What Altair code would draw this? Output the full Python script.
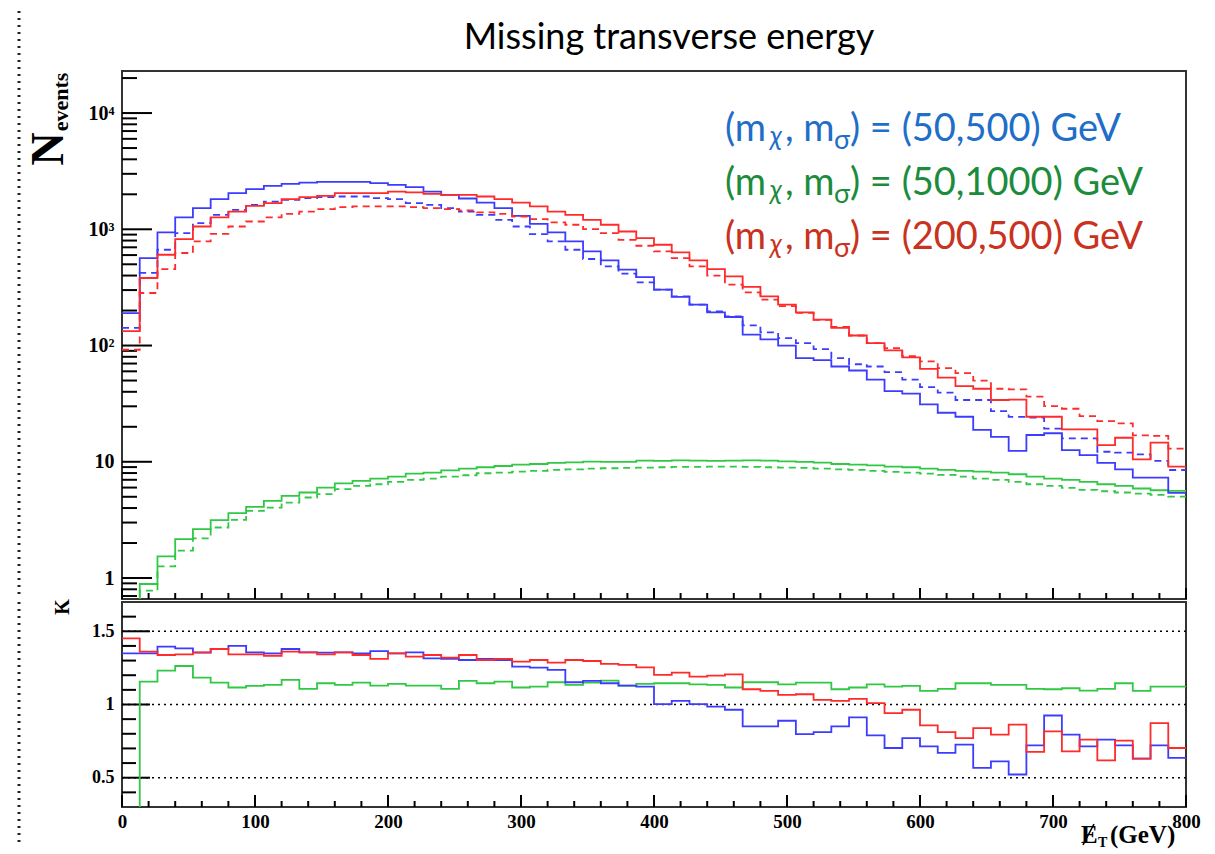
import altair as alt
import pandas as pd

# ---------------- data ----------------
NBINS = 60
XMAX = 800.0
BIN_W = XMAX / NBINS
edges = [i * BIN_W for i in range(NBINS + 1)]

blue_solid = [190, 566, 940, 1264, 1520, 1815, 2045, 2213, 2362, 2460,
              2523, 2558, 2558, 2558, 2494, 2411, 2301, 2112, 1978, 1840,
              1698, 1520, 1306, 1115, 940, 786, 645, 540, 449, 388,
              303, 262, 225, 193, 176, 124, 113, 100, 78, 75,
              66, 61, 51, 40.5, 38.5, 31.2, 26.4, 24.4, 18.8, 16.4,
              12.4, 17.0, 17.6, 12.6, 11.4, 9.8, 8.6, 7.3, 7.3, 5.4]
blue_dashed = [142, 421, 667, 927, 1130, 1330, 1468, 1622, 1733, 1791,
               1853, 1889, 1915, 1915, 1853, 1815, 1678, 1622, 1520, 1421,
               1330, 1207, 1057, 910, 786, 667, 555, 480, 415, 349,
               303, 265, 225, 197, 178, 149, 130, 116, 105, 93,
               78, 69, 66, 59, 51, 43.9, 39.3, 34, 34, 27.3,
               24.3, 24, 19.3, 15.9, 15.9, 12.2, 12, 11.6, 10.2, 8.5]
red_solid = [133, 381, 604, 824, 1057, 1264, 1421, 1591, 1678, 1815,
             1889, 1941, 2045, 2045, 2045, 2112, 2080, 2020, 1978, 1978,
             1915, 1815, 1698, 1573, 1421, 1330, 1207, 1094, 957, 840,
             736, 632, 540, 455, 394, 319, 265, 225, 193, 167,
             142, 122, 105, 91, 79, 63, 53, 44.8, 42.5, 34,
             34.3, 24.4, 24.4, 19, 19, 13.9, 16.1, 10.5, 14.6, 9.1]
red_dashed = [92, 283, 455, 625, 786, 915, 1057, 1167, 1264, 1358,
              1421, 1490, 1552, 1573, 1573, 1573, 1552, 1520, 1490, 1452,
              1396, 1358, 1288, 1225, 1146, 1094, 1003, 927, 812, 722,
              645, 566, 480, 399, 334, 287, 248, 218, 191, 166,
              145, 122, 105, 95, 81, 73, 64, 58, 50, 42.5,
              42, 36.3, 30.1, 28.6, 24.7, 22.4, 21.4, 16.9, 16.7, 13]
green_solid = [0.3, 0.888, 1.535, 2.16, 2.63, 3.15, 3.61, 4.09, 4.61, 5.09,
               5.44, 6.0, 6.53, 6.84, 7.17, 7.46, 7.91, 8.07, 8.45, 8.74,
               8.97, 9.2, 9.46, 9.57, 9.77, 9.9, 10.03, 9.97, 10.0, 10.23,
               10.17, 10.3, 10.23, 10.17, 10.23, 10.3, 10.23, 10.1, 9.97, 9.83,
               9.57, 9.46, 9.33, 9.09, 8.97, 8.74, 8.51, 8.34, 8.23, 8.07,
               7.81, 7.46, 7.17, 6.98, 6.71, 6.41, 6.2, 5.89, 5.69, 5.62]
green_dashed = [0.3, 0.778, 1.26, 1.72, 2.19, 2.72, 3.17, 3.78, 4.04, 4.46,
                4.93, 5.26, 5.81, 6.2, 6.41, 6.71, 6.98, 7.17, 7.46, 7.66,
                7.97, 8.07, 8.23, 8.34, 8.51, 8.62, 8.74, 8.80, 8.85, 8.91,
                8.97, 9.03, 9.03, 9.09, 9.09, 9.03, 8.97, 8.91, 8.85, 8.74,
                8.62, 8.51, 8.34, 8.18, 8.07, 7.91, 7.71, 7.46, 7.17, 6.98,
                6.71, 6.41, 6.2, 5.96, 5.73, 5.58, 5.44, 5.33, 5.19, 5.02]

k_blue = [1.349, 1.349, 1.395, 1.383, 1.354, 1.379, 1.401, 1.356, 1.349, 1.379,
          1.356, 1.354, 1.356, 1.349, 1.365, 1.349, 1.356, 1.315, 1.311, 1.304,
          1.311, 1.304, 1.259, 1.252, 1.236, 1.152, 1.161, 1.145, 1.129, 1.122,
          1.002, 1.025, 1.002, 0.986, 0.964, 0.850, 0.850, 0.889, 0.798, 0.812,
          0.850, 0.912, 0.789, 0.703, 0.771, 0.714, 0.669, 0.726, 0.567, 0.612,
          0.522, 0.721, 0.925, 0.794, 0.714, 0.760, 0.721, 0.630, 0.721, 0.635]
k_red = [1.451, 1.361, 1.338, 1.342, 1.356, 1.379, 1.342, 1.342, 1.333, 1.361,
         1.356, 1.342, 1.356, 1.338, 1.311, 1.349, 1.327, 1.338, 1.320, 1.338,
         1.304, 1.311, 1.293, 1.304, 1.286, 1.304, 1.297, 1.277, 1.270, 1.254,
         1.202, 1.218, 1.190, 1.197, 1.206, 1.104, 1.093, 1.066, 1.070, 1.032,
         1.025, 1.039, 1.009, 0.941, 0.964, 0.857, 0.812, 0.771, 0.839, 0.794,
         0.862, 0.676, 0.816, 0.680, 0.760, 0.619, 0.753, 0.630, 0.873, 0.703]
k_green = [0.0, 1.156, 1.231, 1.263, 1.184, 1.150, 1.116, 1.127, 1.134, 1.168,
           1.107, 1.145, 1.134, 1.150, 1.129, 1.141, 1.129, 1.129, 1.107, 1.161,
           1.145, 1.156, 1.116, 1.122, 1.152, 1.134, 1.150, 1.163, 1.129, 1.141,
           1.145, 1.145, 1.138, 1.134, 1.116, 1.152, 1.152, 1.138, 1.150, 1.150,
           1.104, 1.116, 1.138, 1.122, 1.127, 1.093, 1.107, 1.145, 1.145, 1.134,
           1.134, 1.107, 1.104, 1.111, 1.095, 1.107, 1.145, 1.093, 1.122, 1.122]

x_major = [0, 100, 200, 300, 400, 500, 600, 700, 800]
x_minor = [v for v in range(0, 801, 20) if v % 100 != 0]
top_major = [1, 10, 100, 1000, 10000]
top_minor = [0.7, 0.8, 0.9] + [k * d for d in [1, 10, 100, 1000] for k in range(2, 10)] + [20000]
k_major = [0.5, 1.0, 1.5]
k_minor = [0.4, 0.6, 0.7, 0.8, 0.9, 1.1, 1.2, 1.3, 1.4, 1.6]

legend_lines = [("(50,500) GeV", "#1f6ec8"), ("(50,1000) GeV", "#1c8c3c"), ("(200,500) GeV", "#c8321e")]

# ---------------- styling ----------------
W, TOP_H, BOT_H = 1064, 528, 205
BLUE, RED, GREEN = "#3c3cff", "#ff2a2a", "#30c844"
SERIF = "Liberation Serif"
SANS = "Lato"

xsc = alt.Scale(domain=[0, XMAX], nice=False, zero=False)
ysc_top = alt.Scale(type="log", domain=[0.66, 23000], nice=False)
ysc_bot = alt.Scale(domain=[0.3, 1.7], nice=False, zero=False)

top_yaxis = alt.Axis(values=top_major, ticks=False, domain=False, grid=False, title=None,
                     labelFont=SERIF, labelFontWeight="bold", labelFontSize=20, labelPadding=8,
                     labelColor="black",
                     labelExpr="datum.value == 1 ? '1' : datum.value == 10 ? '10' : "
                               "datum.value == 100 ? '10\u00b2' : datum.value == 1000 ? '10\u00b3' : '10\u2074'")
bot_yaxis = alt.Axis(values=k_major, ticks=False, domain=False, grid=False, title=None,
                     labelFont=SERIF, labelFontWeight="bold", labelFontSize=18, labelPadding=8,
                     labelColor="black", labelExpr="datum.value == 1 ? '1' : format(datum.value, '.1f')")
bot_xaxis = alt.Axis(values=x_major, ticks=False, domain=False, grid=False, title=None,
                     labelFont=SERIF, labelFontWeight="bold", labelFontSize=19, labelPadding=5,
                     labelColor="black", labelFlush=False)


def hist_df(vals):
    return pd.DataFrame({"x": edges, "v": list(vals) + [vals[-1]]})


def hist(vals, color, ysc, yaxis, xaxis, dashed=False):
    kw = dict(interpolate="step-after", color=color, strokeWidth=1.8, clip=True)
    if dashed:
        kw["strokeDash"] = [7, 5]
    return alt.Chart(hist_df(vals)).mark_line(**kw).encode(
        x=alt.X("x:Q", scale=xsc, axis=xaxis), y=alt.Y("v:Q", scale=ysc, axis=yaxis))


def txt(s, x, y, size, color="black", font=SANS, weight="normal", angle=0,
        align="left", baseline="alphabetic", style="normal"):
    return alt.Chart(pd.DataFrame({"t": [s]})).mark_text(
        font=font, fontSize=size, fontWeight=weight, color=color, angle=angle,
        align=align, baseline=baseline, fontStyle=style
    ).encode(text="t:N", x=alt.value(x), y=alt.value(y))


def yticks(vals, ysc, yaxis, length):
    return alt.Chart(pd.DataFrame({"t": vals})).mark_rule(color="black", strokeWidth=2).encode(
        y=alt.Y("t:Q", scale=ysc, axis=yaxis), x=alt.value(0), x2=alt.value(length))


def xticks(vals, xaxis, h, length):
    return alt.Chart(pd.DataFrame({"t": vals})).mark_rule(color="black", strokeWidth=2).encode(
        x=alt.X("t:Q", scale=xsc, axis=xaxis), y=alt.value(h), y2=alt.value(h - length))


one = pd.DataFrame({"a": [0]})

# ---------------- top panel ----------------
legend_layers = []
for i, (vals, col) in enumerate(legend_lines):
    x0 = 603
    yb = 70 + i * 54
    legend_layers += [
        txt("(m", x0, yb, 38, col),
        txt("\u03c7", x0 + 45, yb + 4, 27, col, style="italic"),
        txt(", m", x0 + 60, yb, 38, col),
        txt("\u03c3", x0 + 109, yb + 8, 27, col),
        txt(") = " + vals, x0 + 125, yb, 38, col),
    ]

top = alt.layer(
    alt.Chart(one).mark_rule(color="#222", strokeWidth=3, strokeDash=[2, 5]).encode(
        x=alt.value(-103), y=alt.value(-60), y2=alt.value(TOP_H)),
    yticks(top_major, ysc_top, top_yaxis, 30),
    yticks(top_minor, ysc_top, top_yaxis, 15),
    xticks(x_major, None, TOP_H, 11),
    xticks(x_minor, None, TOP_H, 6),
    hist(green_dashed, GREEN, ysc_top, top_yaxis, None, dashed=True),
    hist(green_solid, GREEN, ysc_top, top_yaxis, None),
    hist(blue_dashed, BLUE, ysc_top, top_yaxis, None, dashed=True),
    hist(blue_solid, BLUE, ysc_top, top_yaxis, None),
    hist(red_dashed, RED, ysc_top, top_yaxis, None, dashed=True),
    hist(red_solid, RED, ysc_top, top_yaxis, None),
    txt("Missing transverse energy", 547, -22, 36, align="center"),
    txt("N", -73, 78, 46, font=SERIF, weight="bold", angle=270, align="center", baseline="middle"),
    txt("events", -61, 31, 22, font=SERIF, weight="bold", angle=270, align="center", baseline="middle"),
    *legend_layers,
).properties(width=W, height=TOP_H)

# ---------------- bottom panel ----------------
bottom = alt.layer(
    alt.Chart(one).mark_rule(color="#222", strokeWidth=3, strokeDash=[2, 5]).encode(
        x=alt.value(-103), y=alt.value(0), y2=alt.value(240)),
    alt.Chart(pd.DataFrame({"t": k_major})).mark_rule(color="black", strokeWidth=1.5, strokeDash=[2, 4]).encode(
        y=alt.Y("t:Q", scale=ysc_bot, axis=bot_yaxis), x=alt.value(0), x2=alt.value(W)),
    yticks(k_major, ysc_bot, bot_yaxis, 28),
    yticks(k_minor, ysc_bot, bot_yaxis, 14),
    xticks(x_major, bot_xaxis, BOT_H, 12),
    xticks(x_minor, bot_xaxis, BOT_H, 6),
    hist(k_green, GREEN, ysc_bot, bot_yaxis, bot_xaxis),
    hist(k_blue, BLUE, ysc_bot, bot_yaxis, bot_xaxis),
    hist(k_red, RED, ysc_bot, bot_yaxis, bot_xaxis),
    txt("K", -59, 5, 20, font=SERIF, weight="bold", angle=270, align="center", baseline="middle"),
    txt("E", 959, 241, 25, font=SERIF, weight="bold"),
    alt.Chart(one).mark_rule(color="black", strokeWidth=1.6).encode(
        x=alt.value(961), x2=alt.value(972), y=alt.value(243), y2=alt.value(222)),
    txt("T", 976, 245, 14, font=SERIF, weight="bold"),
    txt("(GeV)", 988, 241, 25, font=SERIF, weight="bold"),
).properties(width=W, height=BOT_H)

chart = alt.vconcat(top, bottom, spacing=-4).properties(
    padding={"left": 8, "top": 0, "right": 5, "bottom": 0}
).configure_view(stroke="#333", strokeWidth=2)

chart.save("out.html", embed_options={"renderer": "svg", "actions": False})
